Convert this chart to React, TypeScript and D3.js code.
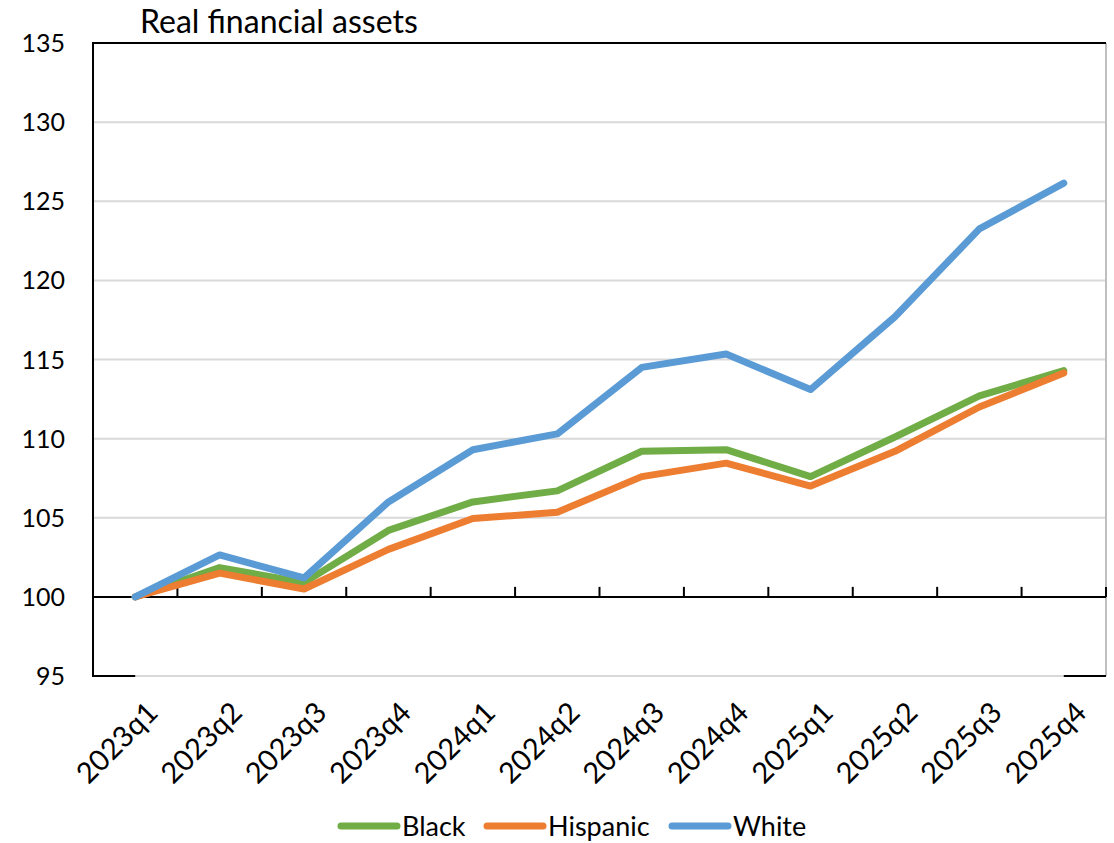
import React from "react";
import * as d3 from "d3";

const categories = ["2023q1","2023q2","2023q3","2023q4","2024q1","2024q2","2024q3","2024q4","2025q1","2025q2","2025q3","2025q4"];
const black = [100, 101.85, 100.9, 104.2, 106.0, 106.7, 109.2, 109.3, 107.6, 110.1, 112.7, 114.3];
const hispanic = [100, 101.5, 100.5, 103.0, 104.95, 105.35, 107.6, 108.45, 107.0, 109.2, 112.0, 114.15];
const white = [100, 102.65, 101.2, 106.0, 109.3, 110.3, 114.5, 115.35, 113.1, 117.7, 123.25, 126.15];
const yTicks = [95, 100, 105, 110, 115, 120, 125, 130, 135];
const seriesNames = ["Black", "Hispanic", "White"];
const seriesColors = ["#70ad47", "#ed7d31", "#5b9bd5"];

export default function App() {
  const W = 1114, H = 843;
  const left = 93, right = 1106, top = 43, bottom = 676;
  const x = d3.scaleBand<string>().domain(categories).range([left, right]);
  const cx = (c: string) => (x(c) as number) + x.bandwidth() / 2;
  const y = d3.scaleLinear().domain([95, 135]).range([bottom, top]);
  const seriesData = [black, hispanic, white];
  const line = d3.line<number>().x((_, i) => cx(categories[i])).y((v) => y(v));
  const font = "Lato, 'Open Sans', sans-serif";
  const boundaries = categories.map((c) => x(c) as number).concat([right]);
  const legendX = [341, 487, 672];

  return (
    <svg width={W} height={H} style={{ position: "absolute", left: 0, top: 0 }} fontFamily={font}>
      <rect width={W} height={H} fill="#fff" />
      {yTicks.filter((t) => t !== 100 && t !== 135).map((t) => (
        <line key={t} x1={left} x2={right} y1={y(t)} y2={y(t)} stroke="#d9d9d9" strokeWidth={2} />
      ))}
      <line x1={right} x2={right} y1={top} y2={bottom} stroke="#bfbfbf" strokeWidth={2} />
      <line x1={left} x2={cx(categories[0])} y1={bottom} y2={bottom} stroke="#000" strokeWidth={2} />
      <line x1={cx(categories[categories.length - 1])} x2={right} y1={bottom} y2={bottom} stroke="#000" strokeWidth={2} />
      <line x1={left} x2={right} y1={top} y2={top} stroke="#000" strokeWidth={2} />
      <line x1={left} x2={left} y1={top - 1} y2={bottom + 1} stroke="#000" strokeWidth={2} />
      <line x1={left} x2={right} y1={y(100)} y2={y(100)} stroke="#000" strokeWidth={2} />
      {boundaries.map((b, i) => (
        <line key={i} x1={b} x2={b} y1={y(100)} y2={y(100) - 10} stroke="#000" strokeWidth={2} />
      ))}
      {yTicks.map((t) => (
        <text key={t} x={65} y={y(t)} dy="0.36em" textAnchor="end" fontSize={25} fill="#000">{t}</text>
      ))}
      {categories.map((c) => (
        <text key={c} transform={`translate(${cx(c) + 10},${bottom + 24}) rotate(-45)`} textAnchor="end" dy="0.7em" fontSize={29} fill="#000">{c}</text>
      ))}
      {seriesData.map((d, i) => (
        <path key={i} d={line(d) as string} fill="none" stroke={seriesColors[i]} strokeWidth={7} strokeLinejoin="round" strokeLinecap="round" />
      ))}
      <text x={140} y={33} fontSize={32} fill="#000">Real financial assets</text>
      {seriesNames.map((n, i) => (
        <g key={n}>
          <line x1={legendX[i]} x2={legendX[i] + 56} y1={826} y2={826} stroke={seriesColors[i]} strokeWidth={7} strokeLinecap="round" />
          <text x={legendX[i] + 61} y={826} dy="0.36em" fontSize={27} fill="#000">{n}</text>
        </g>
      ))}
    </svg>
  );
}
